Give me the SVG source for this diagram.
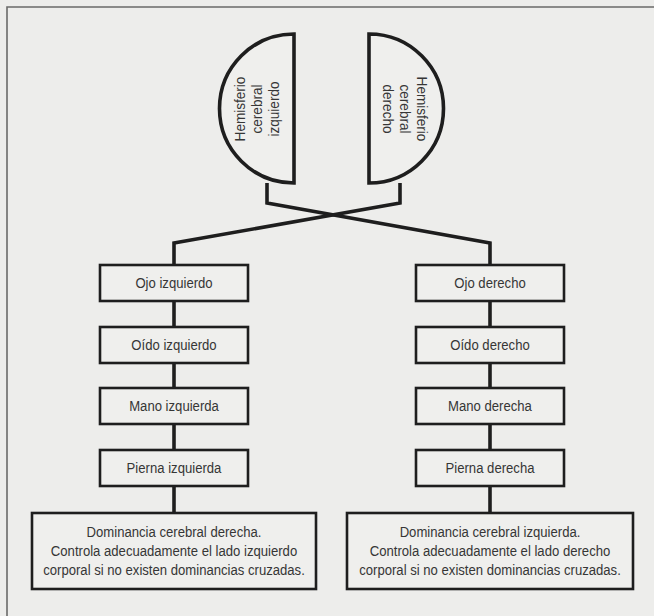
<svg xmlns="http://www.w3.org/2000/svg" width="654" height="616" viewBox="0 0 654 616">
<style>
.bg{fill:#ededeb}
.frame{stroke:#6a6a6a;stroke-width:1.6;fill:none}
.box{fill:#efefed;stroke:#1e1e1e;stroke-width:2.6}
.hemi{fill:#efefed;stroke:#1e1e1e;stroke-width:3.6}
.conn{fill:none;stroke:#1e1e1e;stroke-width:3.6;stroke-linejoin:miter}
.t{font-family:"Liberation Sans",Arial,sans-serif;font-size:15px;fill:#363636;text-anchor:middle}
.h{font-size:15.5px}
</style>
<rect class="bg" x="0" y="0" width="654" height="616"/>
<path class="frame" d="M7,616 V7 H654"/>
<g id="connectors">
<polyline class="conn" points="267,183 267,203 490,243 490,265"/>
<polyline class="conn" points="400,183 400,203 174,243 174,265"/>
<line class="conn" x1="174" y1="301" x2="174" y2="327"/>
<line class="conn" x1="174" y1="363" x2="174" y2="388"/>
<line class="conn" x1="174" y1="424" x2="174" y2="450"/>
<line class="conn" x1="174" y1="486" x2="174" y2="513"/>
<line class="conn" x1="490" y1="301" x2="490" y2="327"/>
<line class="conn" x1="490" y1="363" x2="490" y2="388"/>
<line class="conn" x1="490" y1="424" x2="490" y2="450"/>
<line class="conn" x1="490" y1="486" x2="490" y2="513"/>
</g>
<g id="hemisferio-izquierdo">
<path class="hemi" d="M294,34 A74.5,74.5 0 0 0 294,183 Z"/>
<text class="t h" transform="translate(257,109) rotate(-90) scale(0.875,1)"><tspan x="0" y="-12">Hemisferio</tspan><tspan x="0" y="5">cerebral</tspan><tspan x="0" y="22">izquierdo</tspan></text>
</g>
<g id="hemisferio-derecho">
<path class="hemi" d="M369,34 A74.5,74.5 0 0 1 369,183 Z"/>
<text class="t h" transform="translate(400,109) rotate(90) scale(0.875,1)"><tspan x="0" y="-17">Hemisferio</tspan><tspan x="0" y="0">cerebral</tspan><tspan x="0" y="17">derecho</tspan></text>
</g>
<g id="ojo-izquierdo">
<rect class="box" x="100" y="265" width="148" height="36"/>
<text class="t" transform="translate(174,288) scale(0.875,1)">Ojo izquierdo</text>
</g>
<g id="oido-izquierdo">
<rect class="box" x="100" y="327" width="148" height="36"/>
<text class="t" transform="translate(174,350) scale(0.875,1)">Oído izquierdo</text>
</g>
<g id="mano-izquierda">
<rect class="box" x="100" y="388" width="148" height="36"/>
<text class="t" transform="translate(174,411) scale(0.875,1)">Mano izquierda</text>
</g>
<g id="pierna-izquierda">
<rect class="box" x="100" y="450" width="148" height="36"/>
<text class="t" transform="translate(174,473) scale(0.875,1)">Pierna izquierda</text>
</g>
<g id="ojo-derecho">
<rect class="box" x="416" y="265" width="148" height="36"/>
<text class="t" transform="translate(490,288) scale(0.875,1)">Ojo derecho</text>
</g>
<g id="oido-derecho">
<rect class="box" x="416" y="327" width="148" height="36"/>
<text class="t" transform="translate(490,350) scale(0.875,1)">Oído derecho</text>
</g>
<g id="mano-derecha">
<rect class="box" x="416" y="388" width="148" height="36"/>
<text class="t" transform="translate(490,411) scale(0.875,1)">Mano derecha</text>
</g>
<g id="pierna-derecha">
<rect class="box" x="416" y="450" width="148" height="36"/>
<text class="t" transform="translate(490,473) scale(0.875,1)">Pierna derecha</text>
</g>
<g id="dominancia-derecha">
<rect class="box" x="32" y="513" width="284" height="76"/>
<text class="t" transform="translate(174,0) scale(0.875,1)"><tspan x="0" y="537">Dominancia cerebral derecha.</tspan><tspan x="0" y="556">Controla adecuadamente el lado izquierdo</tspan><tspan x="0" y="575">corporal si no existen dominancias cruzadas.</tspan></text>
</g>
<g id="dominancia-izquierda">
<rect class="box" x="347" y="513" width="286" height="76"/>
<text class="t" transform="translate(490,0) scale(0.875,1)"><tspan x="0" y="537">Dominancia cerebral izquierda.</tspan><tspan x="0" y="556">Controla adecuadamente el lado derecho</tspan><tspan x="0" y="575">corporal si no existen dominancias cruzadas.</tspan></text>
</g>
</svg>
